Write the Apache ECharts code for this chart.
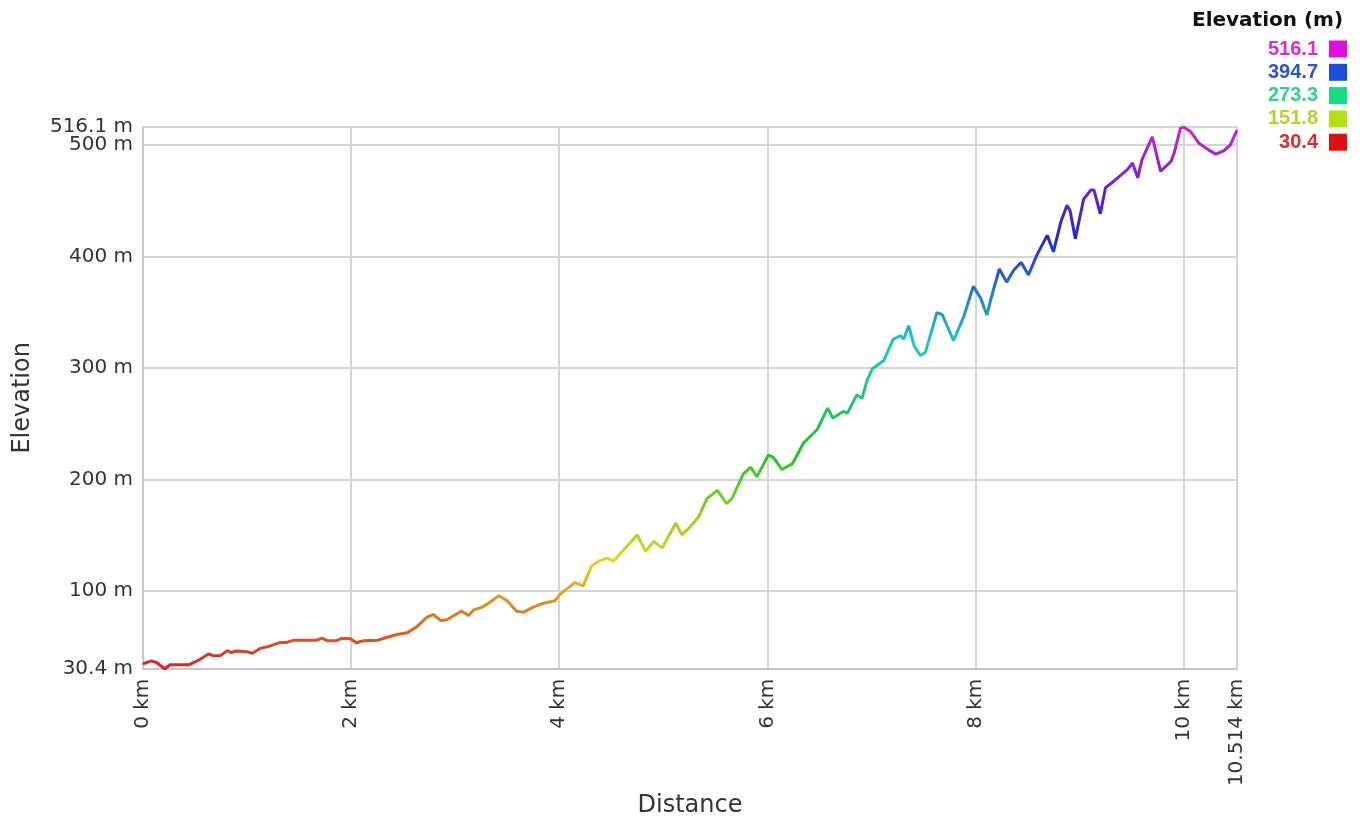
<!DOCTYPE html>
<html>
<head>
<meta charset="utf-8">
<script src="https://cdn.jsdelivr.net/npm/echarts@6/dist/echarts.min.js"></script>
<style>
html,body{margin:0;padding:0;background:#fff;}
#chart{width:1362px;height:823px;}
</style>
</head>
<body>
<div id="chart"></div>
<script>
// Distance along the route (km)
const distances = [
  0.00, 0.08, 0.13, 0.21, 0.26, 0.44, 0.53, 0.63, 0.68, 0.74,
  0.81, 0.85, 0.90, 1.00, 1.05, 1.13, 1.20, 1.32, 1.38, 1.45,
  1.67, 1.72, 1.77, 1.86, 1.91, 1.99, 2.05, 2.12, 2.26, 2.34,
  2.44, 2.54, 2.63, 2.73, 2.79, 2.86, 2.92, 3.06, 3.13, 3.18,
  3.26, 3.32, 3.42, 3.50, 3.59, 3.66, 3.75, 3.85, 3.96, 4.01,
  4.11, 4.15, 4.23, 4.31, 4.38, 4.46, 4.52, 4.68, 4.75, 4.83,
  4.91, 4.99, 5.12, 5.18, 5.26, 5.34, 5.42, 5.52, 5.61, 5.66,
  5.77, 5.84, 5.90, 6.01, 6.06, 6.14, 6.24, 6.35, 6.48, 6.58,
  6.63, 6.73, 6.77, 6.86, 6.91, 6.96, 7.01, 7.12, 7.21, 7.28,
  7.31, 7.36, 7.41, 7.47, 7.52, 7.63, 7.68, 7.79, 7.89, 7.98,
  8.05, 8.11, 8.16, 8.23, 8.30, 8.37, 8.44, 8.51, 8.59, 8.69,
  8.75, 8.82, 8.88, 8.91, 8.96, 9.04, 9.11, 9.14, 9.20, 9.25,
  9.33, 9.46, 9.51, 9.56, 9.60, 9.70, 9.78, 9.88, 9.91, 9.97,
  10.00, 10.07, 10.15, 10.24, 10.31, 10.39, 10.45, 10.514
];
// Elevation (m)
const elevations = [
  34.8, 37.4, 36.0, 30.4, 33.9, 33.9, 37.8, 43.6, 41.9, 41.9,
  46.6, 44.9, 46.3, 45.7, 44.2, 48.7, 50.2, 54.0, 54.0, 56.0,
  56.0, 57.8, 55.5, 55.5, 57.5, 57.5, 53.7, 55.5, 56.0, 58.4,
  61.0, 62.6, 67.9, 76.7, 79.0, 73.7, 74.3, 82.0, 78.1, 83.2,
  85.6, 89.1, 95.8, 91.4, 82.0, 81.1, 85.6, 89.1, 91.4, 97.3,
  104.7, 107.7, 104.7, 122.4, 126.8, 129.5, 126.8, 143.1, 150.4, 135.7,
  144.5, 138.7, 160.8, 150.4, 157.8, 166.6, 182.9, 190.3, 178.5, 182.9,
  205.0, 210.9, 202.5, 221.9, 219.7, 209.0, 214.0, 233.0, 244.9, 264.0,
  255.1, 261.1, 259.6, 275.8, 272.8, 289.1, 299.4, 306.8, 325.9, 328.9,
  325.9, 337.8, 320.1, 311.2, 314.2, 349.6, 348.0, 324.5, 346.6, 373.2,
  362.8, 347.5, 365.8, 388.8, 377.0, 387.9, 394.7, 383.5, 401.2, 418.9,
  404.2, 430.7, 446.0, 441.0, 415.9, 451.3, 459.6, 459.6, 438.1, 461.7,
  467.5, 477.9, 483.8, 470.5, 486.7, 507.3, 476.4, 485.2, 492.7, 514.8,
  516.1, 511.8, 501.5, 495.6, 491.8, 495.0, 500.0, 513.3
];
const xTickValues = [0, 2, 4, 6, 8, 10, 10.514];
const yTickValues = [30.4, 100, 200, 300, 400, 500];
const yTopValues = [516.1];
const legendValues = [516.1, 394.7, 273.3, 151.8, 30.4];
const legendColors = ['#dd11dd', '#1a4ee0', '#14dc82', '#b4e014', '#e01010'];
const legendTextColors = ['#d22ed2', '#2a55d0', '#2ed48c', '#b2d42a', '#dc2a2a'];
const rampColors = ['#dd2020', '#e0d820', '#22c422', '#20c8c8', '#2222d8', '#d020d8'];

const yMin = 30.4, yMax = 516.1, xMin = 0, xMax = 10.514;

const chart = echarts.init(document.getElementById('chart'), null, {renderer: 'canvas'});

const legendGraphics = [{
  type: 'text', left: 1192, top: 11,
  style: {text: 'Elevation (m)', font: 'bold 20px "DejaVu Sans"', fill: '#111'}
}];
legendValues.forEach((v, i) => {
  const cy = 49 + i * 23.3;
  legendGraphics.push({
    type: 'text', right: 44, top: cy - 10,
    style: {text: String(v), font: 'bold 20px "Liberation Sans"', fill: legendTextColors[i], textAlign: 'right'}
  });
  legendGraphics.push({
    type: 'rect', shape: {x: 1329, y: cy - 8.5, width: 18, height: 17},
    style: {fill: legendColors[i]}
  });
});

const labelFont = {fontFamily: 'DejaVu Sans', fontSize: 20, color: '#333'};

chart.setOption({
  animation: false,
  backgroundColor: '#fff',
  grid: {left: 143, right: 125, top: 127, bottom: 147, containLabel: false},
  xAxis: {
    type: 'value', min: xMin, max: xMax,
    name: 'Distance', nameLocation: 'middle', nameGap: 120,
    nameTextStyle: {fontFamily: 'DejaVu Sans', fontSize: 24, color: '#333'},
    axisLine: {show: true, lineStyle: {color: '#c8c8c8', width: 2}},
    axisTick: {show: false, customValues: xTickValues},
    axisLabel: Object.assign({customValues: xTickValues, rotate: 90, margin: 10,
      hideOverlap: false, showMinLabel: true, showMaxLabel: true,
      formatter: v => v + ' km'}, labelFont),
    splitLine: {show: true, lineStyle: {color: '#d4d4d4', width: 2}}
  },
  yAxis: [{
    type: 'value', min: yMin, max: yMax,
    name: 'Elevation', nameLocation: 'middle', nameGap: 108, nameRotate: 90,
    nameTextStyle: {fontFamily: 'DejaVu Sans', fontSize: 24, color: '#333'},
    axisLine: {show: true, lineStyle: {color: '#c8c8c8', width: 2}},
    axisTick: {show: false, customValues: yTickValues},
    axisLabel: Object.assign({customValues: yTickValues, margin: 10,
      hideOverlap: false, showMinLabel: true, showMaxLabel: true,
      formatter: v => v + ' m'}, labelFont),
    splitLine: {show: true, lineStyle: {color: '#d4d4d4', width: 2}}
  }, {
    type: 'value', min: yMin, max: yMax, position: 'left', offset: 0,
    axisLine: {show: false},
    axisTick: {show: false, customValues: yTopValues},
    axisLabel: Object.assign({customValues: yTopValues, margin: 10,
      hideOverlap: false, showMinLabel: true, showMaxLabel: true,
      padding: [0, 0, 8, 0],
      formatter: v => v + ' m'}, labelFont),
    splitLine: {show: true, lineStyle: {color: '#d4d4d4', width: 2}}
  }],
  visualMap: {
    type: 'continuous', show: false, dimension: 1,
    min: yMin, max: yMax,
    inRange: {color: rampColors}
  },
  series: [{
    type: 'line',
    yAxisIndex: 0,
    data: distances.map((d, i) => [d, elevations[i]]),
    showSymbol: false,
    smooth: false,
    lineStyle: {width: 3}
  }],
  graphic: legendGraphics
});
</script>
</body>
</html>
